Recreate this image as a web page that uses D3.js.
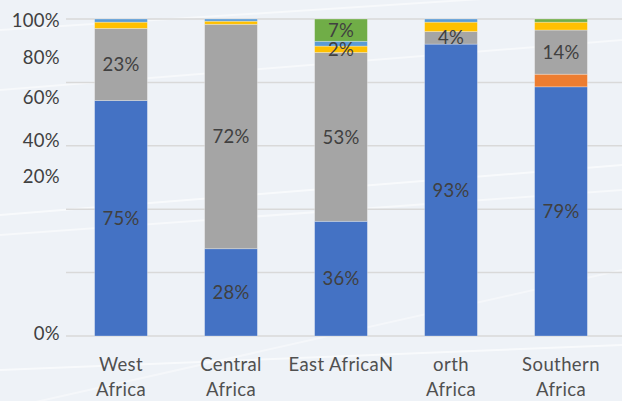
<!DOCTYPE html>
<html><head><meta charset="utf-8">
<script src="https://cdn.jsdelivr.net/npm/d3@7"></script>
<style>
html,body{margin:0;padding:0;background:#eef2f7;}
svg{display:block;font-family:Lato,"Open Sans",sans-serif;}
</style></head>
<body><svg id="c" width="622" height="401"></svg>
<script>
const categories = ["West Africa","Central Africa","East Africa","North Africa","Southern Africa"];
const tickLabels = [["West","Africa"],["Central","Africa"],["East AfricaN"],["orth","Africa"],["Southern","Africa"]];
const seriesNames = ["s1","s2","s3","s4","s5","s6"];
const s1 = [75, 28, 36, 93, 79];
const s2 = [0, 0, 0, 0, 4];
const s3 = [23, 72, 53, 4, 14];
const s4 = [2, 1, 2, 3, 2.5];
const s5 = [1, 0.7, 1.5, 1, 0];
const s6 = [0, 0, 7, 0, 1];
const labelShown = [
  [true,true,true,true,true],
  [false,false,false,false,false],
  [true,true,true,true,true],
  [false,false,true,false,false],
  [false,false,false,false,false],
  [false,false,true,false,false]
];
const yTicks = [0,20,40,60,80,100];
const colors = ["#4472c4","#ed7d31","#a5a5a5","#ffc000","#5b9bd5","#70ad47"];

const svg = d3.select("#c");
const W = 622, H = 401;
const m = {left:66, right:6, top:19, bottom:65};

// faint background streaks
const streaks = svg.append("g").attr("stroke","#ffffff").attr("fill","none");
[[0,90,622,40,0.5],[0,215,622,165,0.6],[0,235,622,190,0.5],[0,410,622,270,0.4],[0,370,622,345,0.6],[0,30,622,-10,0.5]].forEach(s=>{
  streaks.append("line").attr("x1",s[0]).attr("y1",s[1]).attr("x2",s[2]).attr("y2",s[3]).attr("stroke-width",2).attr("opacity",s[4]);
});

const rows = categories.map((c,i)=>({cat:c, s1:s1[i], s2:s2[i], s3:s3[i], s4:s4[i], s5:s5[i], s6:s6[i]}));
const stack = d3.stack().keys(seriesNames).offset(d3.stackOffsetExpand);
const layers = stack(rows);

const x = d3.scaleBand().domain(categories).range([m.left, W - m.right]).paddingInner(0.52).paddingOuter(0.26);
const y = d3.scaleLinear().domain([0,1]).range([H - m.bottom, m.top]);
const yPct = d3.scaleLinear().domain([0,100]).range([H - m.bottom, m.top]);

// gridlines
svg.append("g").selectAll("line").data(yTicks).join("line")
  .attr("x1", m.left).attr("x2", W)
  .attr("y1", d=>yPct(d)).attr("y2", d=>yPct(d))
  .attr("stroke","#d9d9d9").attr("stroke-width",1.5);

// y axis labels (offset as in the reference)
const labelShift = {0:-3, 20:-97, 40:-69, 60:-49, 80:-25, 100:1};
const yAxis = d3.axisLeft(yPct).tickValues(yTicks).tickFormat(d=>d+"%").tickSize(0).tickPadding(6);
const ya = svg.append("g").attr("transform",`translate(${m.left},0)`).call(yAxis);
ya.select(".domain").remove();
ya.selectAll("text").attr("font-size",18.5).attr("fill","#404040").attr("font-family","Lato,sans-serif")
  .attr("letter-spacing","0.3px")
  .attr("dy", function(d){ return (labelShift[d] + 6.5) + "px"; });

// bars
const g = svg.append("g");
layers.forEach((layer, li)=>{
  g.append("g").attr("fill", colors[li]).selectAll("rect").data(layer).join("rect")
    .attr("x", d=>x(d.data.cat))
    .attr("width", x.bandwidth())
    .attr("y", d=>y(d[1]))
    .attr("height", d=>Math.max(0, y(d[0]) - y(d[1])))
    .attr("stroke","#ffffff").attr("stroke-opacity",0.35).attr("stroke-width",0.8);
});

// data labels
const lg = svg.append("g").attr("font-size",18.5).attr("fill","#404040").attr("text-anchor","middle").attr("letter-spacing","0.3px");
layers.forEach((layer, li)=>{
  layer.forEach((d, ci)=>{
    if (!labelShown[li][ci]) return;
    const v = rows[ci][seriesNames[li]];
    lg.append("text")
      .attr("x", x(d.data.cat) + x.bandwidth()/2)
      .attr("y", (y(d[0]) + y(d[1]))/2)
      .attr("dy","0.36em")
      .text(Math.round(v) + "%");
  });
});

// x axis labels
const xg = svg.append("g").attr("font-size",18.5).attr("fill","#505050").attr("text-anchor","middle").attr("letter-spacing","0.4px");
categories.forEach((c,i)=>{
  const t = xg.append("text").attr("x", x(c) + x.bandwidth()/2).attr("y", 371);
  tickLabels[i].forEach((line,j)=>{
    t.append("tspan").attr("x", x(c) + x.bandwidth()/2).attr("dy", j===0 ? 0 : 25).text(line);
  });
});
</script></body></html>
